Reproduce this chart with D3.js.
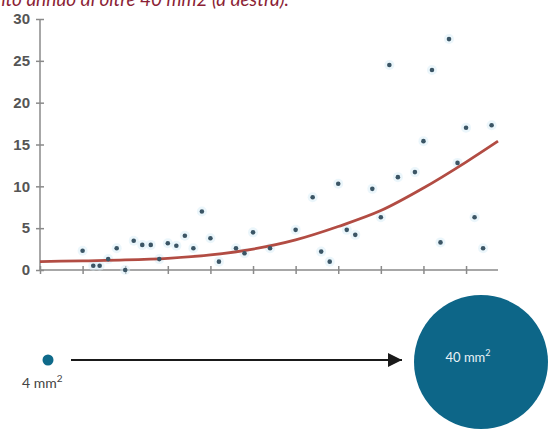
<!DOCTYPE html>
<html>
<head>
<meta charset="utf-8">
<style>
  body { margin: 0; background: #fff; }
  svg { display: block; font-family: Lato, "Open Sans", sans-serif; }
  .tick text { fill: #555; font-size: 15px; font-weight: 600; }
  .axis path, .axis line { stroke: #8a8a8a; stroke-width: 1.5; }
</style>
</head>
<body>
<div id="chart"></div>
<script src="https://cdn.jsdelivr.net/npm/d3@7"></script>
<script>
const width = 548;
const height = 433;

// Data (x in axis units, one tick per unit)
const pointX = [1.0, 1.25, 1.4, 1.6, 1.8, 2.0, 2.2, 2.4, 2.6, 2.8, 3.0, 3.2, 3.4, 3.6, 3.8, 4.0, 4.2,
                4.6, 4.8, 5.0, 5.4, 6.0, 6.4, 6.6, 6.8, 7.0, 7.2, 7.4, 7.8, 8.0, 8.2, 8.4, 8.8,
                9.0, 9.2, 9.4, 9.6, 9.8, 10.0, 10.2, 10.4, 10.6];
const pointY = [2.3, 0.5, 0.5, 1.3, 2.6, 0.0, 3.5, 3.0, 3.0, 1.3, 3.2, 2.9, 4.1, 2.6, 7.0, 3.8, 1.0,
                2.6, 2.0, 4.5, 2.6, 4.8, 8.7, 2.2, 1.0, 10.3, 4.8, 4.2, 9.7, 6.3, 24.5, 11.1, 11.7,
                15.4, 23.9, 3.3, 27.6, 12.8, 17.0, 6.3, 2.6, 17.3];

const trendX = [0, 1, 2, 3, 4, 5, 6, 7, 8, 9, 10, 10.75];
const trendY = [1.0, 1.1, 1.2, 1.4, 1.8, 2.5, 3.6, 5.2, 7.1, 9.8, 12.9, 15.4];

const yTicks = [0, 5, 10, 15, 20, 25, 30];
const xTicks = [0, 1, 2, 3, 4, 5, 6, 7, 8, 9, 10];

const sizeLabels = ["4 mm", "40 mm"];
const sizeValues = [4, 40];

const svg = d3.select("#chart")
    .append("svg")
    .attr("width", width)
    .attr("height", height);

// Caption line, cut off at the top edge as in the source
svg.append("text")
    .attr("x", 289)
    .attr("y", 6)
    .attr("text-anchor", "end")
    .attr("fill", "#8c1f36")
    .attr("font-style", "italic")
    .attr("font-size", 19)
    .text("aumento annuo di oltre 40 mm2 (a destra).");

const x = d3.scaleLinear().domain([0, 10.75]).range([40, 498]);
const y = d3.scaleLinear().domain([0, 30]).range([270, 19]);

// Y axis
svg.append("g")
    .attr("class", "axis")
    .attr("transform", "translate(40,0)")
    .call(d3.axisLeft(y).tickValues(yTicks).tickSize(0).tickPadding(10))
    .call(g => g.select(".domain").attr("d", `M0,${y(0)}V${y(30)}`))
    .call(g => g.selectAll(".tick").append("line").attr("x1", -4).attr("x2", 4));

// X axis
svg.append("g")
    .attr("class", "axis")
    .attr("transform", `translate(0,${y(0)})`)
    .call(d3.axisBottom(x).tickValues(xTicks).tickSize(0).tickFormat(""))
    .call(g => g.select(".domain").attr("d", `M${x(0)},0H${x(10.75)}`))
    .call(g => g.selectAll(".tick").append("line").attr("y1", -4).attr("y2", 4));

const pts = pointX.map((v, i) => [v, pointY[i]]);

// faint halo round each dot
svg.append("g")
    .selectAll("circle")
    .data(pts)
    .join("circle")
    .attr("cx", d => x(d[0]))
    .attr("cy", d => y(d[1]))
    .attr("r", 5)
    .attr("fill", "#d8eef8")
    .attr("opacity", 0.5);

// Trend line
const line = d3.line()
    .x(d => x(d[0]))
    .y(d => y(d[1]))
    .curve(d3.curveMonotoneX);

svg.append("path")
    .datum(trendX.map((v, i) => [v, trendY[i]]))
    .attr("fill", "none")
    .attr("stroke", "#b24c43")
    .attr("stroke-width", 2.8)
    .attr("d", line);

svg.append("g")
    .selectAll("circle")
    .data(pts)
    .join("circle")
    .attr("cx", d => x(d[0]))
    .attr("cy", d => y(d[1]))
    .attr("r", 2.3)
    .attr("fill", "#3b5565");

// Size comparison: area scale
const r = d3.scaleSqrt().domain([0, 40]).range([0, 67]);
const cy = 361;

svg.append("defs").append("marker")
    .attr("id", "arrow")
    .attr("viewBox", "0 0 10 10")
    .attr("refX", 10)
    .attr("refY", 5)
    .attr("markerWidth", 8)
    .attr("markerHeight", 7)
    .attr("markerUnits", "strokeWidth")
    .attr("orient", "auto")
    .append("path")
    .attr("d", "M0,0L10,5L0,10z")
    .attr("fill", "#1a1a1a");

svg.append("circle")
    .attr("cx", 48)
    .attr("cy", cy - 1)
    .attr("r", 5.5)
    .attr("fill", "#0f6a8a");

svg.append("line")
    .attr("x1", 71)
    .attr("x2", 402)
    .attr("y1", cy - 1)
    .attr("y2", cy - 1)
    .attr("stroke", "#1a1a1a")
    .attr("stroke-width", 2)
    .attr("marker-end", "url(#arrow)");

svg.append("circle")
    .attr("cx", 481)
    .attr("cy", cy + 1)
    .attr("r", r(sizeValues[1]))
    .attr("fill", "#0d6688");

const small = svg.append("text")
    .attr("x", 22)
    .attr("y", 388)
    .attr("font-size", 14)
    .attr("fill", "#444")
    .text(sizeLabels[0]);
small.append("tspan").attr("dy", -6).attr("font-size", 10).text("2");

const big = svg.append("text")
    .attr("x", 468)
    .attr("y", 362)
    .attr("text-anchor", "middle")
    .attr("font-size", 13)
    .attr("fill", "#e8f2f6")
    .text(sizeLabels[1]);
big.append("tspan").attr("dy", -6).attr("font-size", 9).text("2");
</script>
</body>
</html>
